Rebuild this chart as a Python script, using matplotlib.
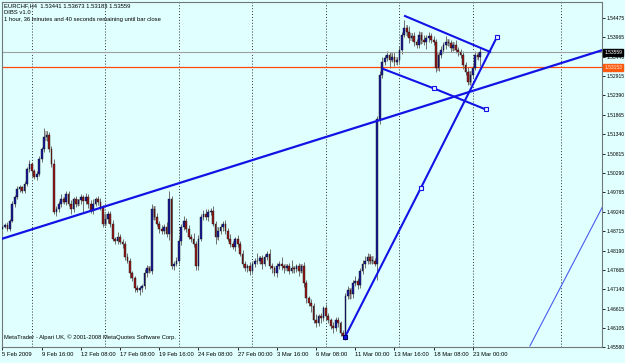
import matplotlib
matplotlib.use("Agg")
import matplotlib.pyplot as plt
import matplotlib.transforms as mtransforms
import numpy as np

plt.rcParams["font.family"] = ["Liberation Sans", "DejaVu Sans"]

# EURCHF H4 closes, 5 Feb 2009 .. 23 Mar 2009
closes = [
    1.4884, 1.4889, 1.4878, 1.4900, 1.4946, 1.4964, 1.4986, 1.4991, 1.4981, 1.4999,
    1.5040, 1.5053, 1.5034, 1.5018, 1.5026, 1.5067, 1.5093, 1.5126, 1.5131, 1.5093,
    1.5053, 1.4924, 1.4932, 1.4946, 1.4959, 1.4951, 1.4972, 1.4946, 1.4932, 1.4959,
    1.4946, 1.4955, 1.4964, 1.4954, 1.4964, 1.4946, 1.4927, 1.4946, 1.4959, 1.4951,
    1.4937, 1.4892, 1.4905, 1.4919, 1.4892, 1.4851, 1.4846, 1.4857, 1.4843, 1.4838,
    1.4803, 1.4792, 1.4757, 1.4744, 1.4717, 1.4712, 1.4717, 1.4722, 1.4757, 1.4771,
    1.4765, 1.4932, 1.4911, 1.4892, 1.4878, 1.4873, 1.4884, 1.4865, 1.4959, 1.4776,
    1.4784, 1.4792, 1.4846, 1.4884, 1.4900, 1.4878, 1.4857, 1.4851, 1.4838, 1.4776,
    1.4851, 1.4911, 1.4919, 1.4911, 1.4924, 1.4927, 1.4892, 1.4857, 1.4873, 1.4884,
    1.4892, 1.4873, 1.4851, 1.4838, 1.4830, 1.4851, 1.4838, 1.4811, 1.4784, 1.4771,
    1.4776, 1.4765, 1.4784, 1.4790, 1.4792, 1.4798, 1.4784, 1.4803, 1.4811, 1.4776,
    1.4771, 1.4757, 1.4776, 1.4784, 1.4776, 1.4771, 1.4776, 1.4765, 1.4771, 1.4768,
    1.4776, 1.4765, 1.4776, 1.4730, 1.4690, 1.4677, 1.4668, 1.4631, 1.4623, 1.4642,
    1.4636, 1.4663, 1.4642, 1.4631, 1.4615, 1.4609, 1.4631, 1.4623, 1.4596, 1.4588,
    1.4695, 1.4712, 1.4701, 1.4730, 1.4738, 1.4725, 1.4765, 1.4784, 1.4790, 1.4803,
    1.4792, 1.4792, 1.4784, 1.5174, 1.5295, 1.5330, 1.5341, 1.5349, 1.5336, 1.5344,
    1.5330, 1.5336, 1.5362, 1.5403, 1.5422, 1.5411, 1.5395, 1.5400, 1.5384, 1.5376,
    1.5403, 1.5389, 1.5384, 1.5395, 1.5400, 1.5389, 1.5384, 1.5314, 1.5349, 1.5362,
    1.5376, 1.5384, 1.5380, 1.5368, 1.5376, 1.5362, 1.5357, 1.5349, 1.5322, 1.5303,
    1.5276, 1.5295, 1.5314, 1.5349, 1.53441, 1.53559,
]
first_open = 1.4878

# wick lengths in pips
up_wick = [
    6, 4, 8, 5, 7, 5, 9, 6, 4, 8,
    6, 10, 5, 7, 9, 8, 6, 25, 12, 8,
    10, 14, 9, 6, 12, 5, 8, 7, 10, 6,
    9, 5, 8, 6, 11, 7, 9, 14, 6, 8,
    10, 6, 12, 8, 7, 9, 5, 11, 6, 8,
    7, 9, 6, 8, 5, 10, 7, 6, 12, 8,
    6, 14, 8, 10, 6, 9, 7, 12, 20, 8,
    6, 9, 10, 8, 12, 6, 9, 7, 15, 8,
    10, 6, 9, 12, 8, 7, 14, 6, 10, 8,
    6, 9, 7, 12, 8, 6, 10, 7, 9, 6,
    8, 11, 6, 9, 20, 7, 10, 8, 6, 12,
    9, 7, 10, 6, 18, 8, 7, 9, 22, 6,
    8, 10, 6, 12, 9, 7, 10, 8, 15, 6,
    9, 7, 12, 8, 6, 10, 7, 9, 6, 8,
    8, 10, 6, 9, 12, 7, 8, 10, 15, 9,
    8, 12, 6, 10, 9, 14, 8, 10, 7, 9,
    12, 8, 10, 9, 20, 7, 15, 9, 12, 8,
    10, 9, 15, 8, 10, 7, 12, 9, 8, 10,
    7, 15, 9, 10, 8, 12, 7, 9, 10, 8,
    12, 9, 7, 10, 8, 11,
]
dn_wick = [
    8, 5, 7, 6, 4, 9, 5, 8, 6, 7,
    5, 8, 12, 6, 9, 5, 7, 6, 10, 8,
    9, 6, 12, 8, 10, 7, 9, 6, 14, 8,
    10, 7, 9, 30, 8, 12, 7, 10, 6, 9,
    8, 10, 7, 12, 9, 6, 10, 8, 7, 11,
    9, 7, 12, 8, 10, 6, 14, 9, 7, 10,
    8, 10, 9, 7, 12, 8, 10, 9, 18, 8,
    10, 7, 9, 12, 8, 10, 7, 9, 8, 10,
    9, 7, 10, 8, 12, 9, 7, 20, 10, 8,
    12, 9, 7, 10, 8, 12, 9, 7, 10, 8,
    9, 12, 7, 10, 8, 9, 14, 7, 10, 8,
    12, 8, 9, 7, 10, 14, 8, 9, 7, 10,
    8, 15, 7, 10, 12, 8, 14, 9, 10, 7,
    12, 8, 10, 9, 7, 12, 8, 10, 9, 6,
    10, 8, 12, 9, 7, 10, 8, 9, 12, 8,
    10, 9, 8, 45, 12, 10, 8, 9, 22, 7,
    10, 8, 9, 12, 7, 10, 14, 8, 10, 9,
    8, 12, 9, 18, 10, 8, 9, 12, 10, 8,
    9, 10, 7, 12, 8, 9, 10, 8, 12, 9,
    10, 8, 9, 7, 10, 26,
]

price_ticks = [1.54475, 1.53965, 1.53440, 1.52915, 1.52390, 1.51865, 1.51340,
               1.50815, 1.50290, 1.49765, 1.49240, 1.48715, 1.48190, 1.47665,
               1.47140, 1.46615, 1.46105, 1.45580]
date_bars = [0, 16, 32, 48, 64, 80, 96, 112, 128, 144, 160, 176, 192]
date_labels = ["5 Feb 2009", "9 Feb 16:00", "12 Feb 08:00", "17 Feb 08:00",
               "19 Feb 16:00", "24 Feb 08:00", "27 Feb 00:00", "3 Mar 16:00",
               "6 Mar 08:00", "11 Mar 00:00", "13 Mar 16:00", "18 Mar 08:00",
               "23 Mar 00:00"]
week_grid = [12, 42, 72, 102, 132, 162, 192, 228]

bid_price = 1.53559
level_price = 1.53153

# trendlines as (bar, price) anchors
support_x, support_y = [-0.2, 245.0], [1.4851, 1.5362]
rally_x, rally_y = [139.8, 170.8, 201.8], [1.4585, 1.4989, 1.5397]
chan_top_x, chan_top_y = [164.3, 199.0], [1.5454, 1.5357]
chan_bot_x, chan_bot_y = [155.3, 176.1, 197.3], [1.5311, 1.5258, 1.5201]
thin_x, thin_y = [215.3, 245.1], [1.4561, 1.4940]

bg = "#E0FFFF"
fs = 4.2
fig = plt.figure(figsize=(6.25, 3.63), dpi=100, facecolor=bg)
ax = fig.add_axes([2 / 625, 16 / 363, 600 / 625, 345 / 363], facecolor=bg)

c = np.array(closes)
o = np.array([first_open] + closes[:-1])
h = np.maximum(o, c) + np.array(up_wick) * 0.0001
l = np.minimum(o, c) - np.array(dn_wick) * 0.0001
x = np.arange(len(c))

# inside bars (DIBS) shaded grey
inside = np.zeros(len(c), dtype=bool)
inside[1:] = (h[1:] <= h[:-1]) & (l[1:] >= l[:-1])
ax.bar(x[inside], (h - l)[inside], bottom=l[inside], width=1.0,
       color="#B0B4B4", zorder=1)

ax.vlines(x, l, h, color="#6E6E6E", lw=0.7, zorder=2)
bull = c >= o
body_h = np.maximum(np.abs(c - o), 0.00012)
ax.bar(x, body_h, bottom=np.minimum(o, c), width=0.7,
       color=np.where(bull, "#1A1AA0", "#9A1A1A"),
       edgecolor="#101010", linewidth=0.3, zorder=3)

for g in week_grid:
    ax.axvline(g, color="#303030", lw=0.7, ls=(0, (1, 2)), zorder=0.5)

ax.axhline(bid_price, color="#A0A0A0", lw=0.8, zorder=2.5)
ax.axhline(level_price, color="#FF4A10", lw=0.9, zorder=2.5)

blue = "#1212E6"
ax.plot(support_x, support_y, color=blue, lw=1.6, zorder=4)
ax.plot(rally_x, rally_y, color=blue, lw=1.5, zorder=4)
ax.plot(chan_top_x, chan_top_y, color=blue, lw=1.5, zorder=4)
ax.plot(chan_bot_x, chan_bot_y, color=blue, lw=1.5, zorder=4)
ax.plot(thin_x, thin_y, color="#4A5AF0", lw=0.8, zorder=4)
ax.plot(rally_x[1:], rally_y[1:], ls="none", marker="s", ms=3,
        mfc="#E8F0FF", mec=blue, mew=0.8, zorder=5)
ax.plot(rally_x[:1], rally_y[:1], ls="none", marker="s", ms=3,
        mfc=blue, mec="#000060", mew=0.8, zorder=5)
ax.plot(chan_bot_x[1:], chan_bot_y[1:], ls="none", marker="s", ms=3,
        mfc="#E8F0FF", mec=blue, mew=0.8, zorder=5)

ax.set_xlim(-0.2, 244.7)
ax.set_ylim(1.4564, 1.5492)

ax.yaxis.tick_right()
ax.set_yticks(price_ticks)
ax.set_yticklabels([f"{p:.5f}" for p in price_ticks])
ax.tick_params(axis="y", right=True, length=2, width=0.6, pad=1,
               labelsize=3.6, colors="black")
ax.set_xticks(date_bars)
ax.set_xticklabels(date_labels)
ax.tick_params(axis="x", length=2, width=0.6, pad=1.5, labelsize=fs)
for lab in ax.get_xticklabels():
    lab.set_horizontalalignment("left")

for s in ax.spines.values():
    s.set_color("#707878")
    s.set_linewidth(0.8)

trans = mtransforms.blended_transform_factory(ax.transAxes, ax.transData)
ax.text(1.004, bid_price, f"{bid_price:.5f}", transform=trans, fontsize=3.6,
        color="white", va="center", ha="left", zorder=6,
        bbox=dict(boxstyle="square,pad=0.2", fc="black", ec="black"))
ax.text(1.004, level_price, f"{level_price:.5f}", transform=trans, fontsize=3.6,
        color="#FFE8D8", va="center", ha="left", zorder=6,
        bbox=dict(boxstyle="square,pad=0.2", fc="#FF5A10", ec="#FF5A10"))

fig.text(4 / 625, 1 - 6 / 363, "EURCHF,H4  1.53441 1.53673 1.53183 1.53559",
         fontsize=fs, va="center", ha="left")
fig.text(4 / 625, 1 - 12.5 / 363, "DIBS v1.0", fontsize=fs, va="center", ha="left")
fig.text(4 / 625, 1 - 19 / 363,
         "1 hour, 36 minutes and 40 seconds remaining until bar close",
         fontsize=fs, va="center", ha="left")
fig.text(4 / 625, 1 - 337 / 363,
         "MetaTrader - Alpari UK, \u00a9 2001-2008 MetaQuotes Software Corp.",
         fontsize=fs, va="center", ha="left")

fig.savefig("out.png", dpi=100, facecolor=bg)
